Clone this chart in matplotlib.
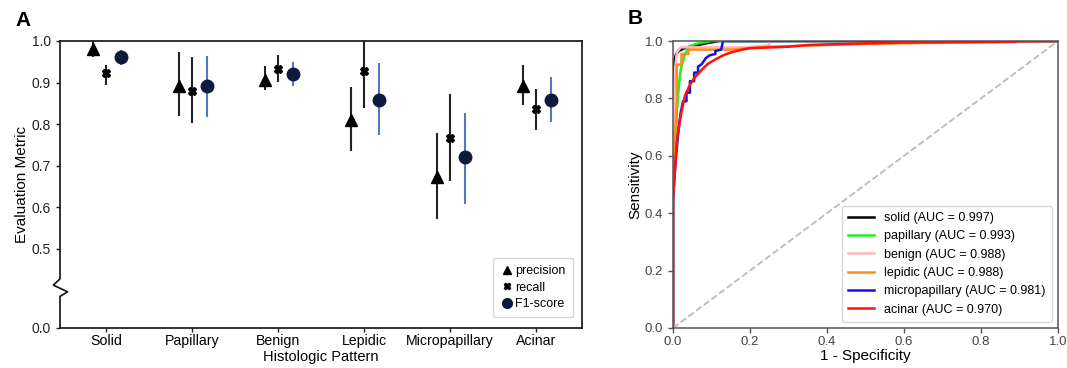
import numpy as np
import matplotlib
matplotlib.use("Agg")
import matplotlib.pyplot as plt
from matplotlib.lines import Line2D

plt.rcParams['font.family'] = ['Liberation Sans', 'DejaVu Sans']

# ---------------- Panel A data ----------------
categories = ["Solid", "Papillary", "Benign", "Lepidic", "Micropapillary", "Acinar"]
precision = [0.981, 0.893, 0.907, 0.810, 0.672, 0.893]
precision_lo = [0.962, 0.819, 0.883, 0.735, 0.573, 0.845]
precision_hi = [1.000, 0.974, 0.939, 0.890, 0.778, 0.943]
recall = [0.922, 0.880, 0.933, 0.927, 0.767, 0.837]
recall_lo = [0.895, 0.802, 0.901, 0.839, 0.663, 0.787]
recall_hi = [0.943, 0.962, 0.966, 1.000, 0.873, 0.885]
f1 = [0.962, 0.891, 0.920, 0.859, 0.722, 0.859]
f1_lo = [0.943, 0.818, 0.891, 0.773, 0.609, 0.805]
f1_hi = [0.979, 0.965, 0.950, 0.947, 0.827, 0.914]

ytick_values = [0.0, 0.5, 0.6, 0.7, 0.8, 0.9, 1.0]

# ---------------- Panel B data ----------------
roc_labels = ["solid", "papillary", "benign", "lepidic", "micropapillary", "acinar"]
roc_auc = [0.997, 0.993, 0.988, 0.988, 0.981, 0.970]
roc_colors = ["black", "#22ee22", "#ffb6c1", "#ff8c1a", "#1010ee", "#ff1010"]

fpr_solid = [0, 0, 0.003, 0.008, 0.015, 0.03, 0.06, 0.09, 0.12, 1.0]
tpr_solid = [0, 0.6, 0.93, 0.955, 0.965, 0.975, 0.985, 0.993, 1.0, 1.0]
fpr_papillary = [0, 0, 0.005, 0.01, 0.015, 0.02, 0.03, 0.04, 0.06, 0.1, 1.0]
tpr_papillary = [0, 0.45, 0.6, 0.75, 0.84, 0.9, 0.95, 0.98, 0.99, 1.0, 1.0]
fpr_benign = [0, 0, 0.005, 0.01, 0.02, 0.19, 0.25, 0.25, 1.0]
tpr_benign = [0, 0.6, 0.9, 0.96, 0.978, 0.978, 0.985, 1.0, 1.0]
fpr_lepidic = [0, 0, 0.01, 0.01, 0.022, 0.022, 0.04, 0.04, 0.15, 0.2, 0.25, 0.5, 1.0]
tpr_lepidic = [0, 0.5, 0.8, 0.918, 0.918, 0.955, 0.955, 0.97, 0.97, 0.975, 0.98, 0.99, 1.0]
fpr_micro = [0, 0, 0.008, 0.015, 0.02, 0.026, 0.035, 0.035, 0.044, 0.044, 0.055, 0.055,
             0.065, 0.065, 0.075, 0.085, 0.095, 0.11, 0.11, 0.125, 0.13, 1.0]
tpr_micro = [0, 0.45, 0.6, 0.7, 0.75, 0.79, 0.79, 0.82, 0.82, 0.86, 0.86, 0.89,
             0.89, 0.91, 0.92, 0.94, 0.95, 0.955, 0.965, 0.97, 1.0, 1.0]
fpr_acinar = [0, 0, 0.005, 0.01, 0.02, 0.031, 0.045, 0.057, 0.075, 0.09, 0.109, 0.13,
              0.15, 0.18, 0.2, 0.3, 0.35, 0.45, 0.6, 0.89, 0.89, 1.0]
tpr_acinar = [0, 0.45, 0.55, 0.65, 0.74, 0.81, 0.85, 0.874, 0.9, 0.92, 0.935, 0.95,
              0.96, 0.97, 0.975, 0.98, 0.986, 0.99, 0.995, 0.997, 1.0, 1.0]
roc_fpr = [fpr_solid, fpr_papillary, fpr_benign, fpr_lepidic, fpr_micro, fpr_acinar]
roc_tpr = [tpr_solid, tpr_papillary, tpr_benign, tpr_lepidic, tpr_micro, tpr_acinar]

# ---------------- Figure ----------------
fig = plt.figure(figsize=(10.67, 3.68), dpi=100)

axA = fig.add_axes([60/1067, 1-328/368, (582-60)/1067, (328-41)/368])
axB = fig.add_axes([673/1067, 1-328/368, (1058-673)/1067, (328-41)/368])

# ---- Panel A ----
Y0 = 0.31  # display position of the 0.0 tick (broken axis)
def ymap(v):
    v = np.asarray(v, dtype=float)
    return np.where(v >= 0.5, v, Y0 + v * (0.5 - Y0) / 0.5)

x = np.arange(len(categories))
offs = [-0.15, 0.0, 0.17]

def err(v, lo, hi):
    v = np.array(v); return [v - np.array(lo), np.array(hi) - v]

axA.errorbar(x + offs[0], precision, yerr=err(precision, precision_lo, precision_hi),
             fmt='^', color='black', ecolor='#222222', elinewidth=1.5, markersize=8,
             capsize=0, zorder=3)
axA.errorbar(x + offs[1], recall, yerr=err(recall, recall_lo, recall_hi),
             fmt='X', color='black', ecolor='#222222', elinewidth=1.5, markersize=6,
             capsize=0, zorder=3)
axA.errorbar(x + offs[2], f1, yerr=err(f1, f1_lo, f1_hi),
             fmt='o', color='#0d1a3d', mec='#0d1a3d', ecolor='#5577c0', elinewidth=1.5,
             markersize=9, capsize=0, zorder=3)

axA.set_xlim(-0.535, 5.535)
axA.set_ylim(Y0, 1.0)
axA.set_yticks(ymap(ytick_values))
axA.set_yticklabels([f"{v:.1f}" for v in ytick_values], fontsize=10, color='#222222')
axA.set_xticks(x)
axA.set_xticklabels(categories, fontsize=10.2)
axA.tick_params(axis='both', length=3, width=1, color='#222222')
axA.tick_params(axis='x', pad=1.5)
axA.set_xlabel("Histologic Pattern", fontsize=10.5, labelpad=1)
axA.set_ylabel("Evaluation Metric", fontsize=11, labelpad=2)

for s in ['top', 'right', 'bottom']:
    axA.spines[s].set_linewidth(1.2)
    axA.spines[s].set_color('#111111')
axA.spines['left'].set_visible(False)
tr = axA.get_yaxis_transform()
zz_x = [0, 0, 0.0146, -0.0128, 0, 0]
zz_y = [Y0, 0.386, 0.397, 0.413, 0.428, 1.0]
axA.plot(zz_x, zz_y, transform=tr, color='#111111', lw=1.2, clip_on=False, zorder=4)

handlesA = [
    Line2D([], [], marker='^', color='black', linestyle='none', markersize=6),
    Line2D([], [], marker='X', color='black', linestyle='none', markersize=5),
    Line2D([], [], marker='o', color='#0d1a3d', linestyle='none', markersize=7),
]
legA = axA.legend(handlesA, ['precision', 'recall', 'F1-score'], loc='lower right',
                  fontsize=9, frameon=True, fancybox=True, handletextpad=0.2,
                  handlelength=1.0, borderpad=0.6, labelspacing=0.35,
                  bbox_to_anchor=(0.995, 0.015))
legA.get_frame().set_edgecolor('#cccccc')

fig.text(15/1067, 1-20/368, "A", fontsize=15, fontweight='bold', va='center', ha='left')

# ---- Panel B ----
for f, t, lab, auc, c in zip(roc_fpr, roc_tpr, roc_labels, roc_auc, roc_colors):
    axB.plot(f, t, color=c, lw=1.8, label=f"{lab} (AUC = {auc:.3f})")
axB.plot([0, 1], [0, 1], linestyle='--', color='#bbbbbb', lw=1.3)
axB.set_xlim(0, 1)
axB.set_ylim(0, 1)
ticks = [0.0, 0.2, 0.4, 0.6, 0.8, 1.0]
axB.set_xticks(ticks)
axB.set_yticks(ticks)
axB.set_xticklabels([f"{v:.1f}" for v in ticks], fontsize=9.5, color='#444444')
axB.set_yticklabels([f"{v:.1f}" for v in ticks], fontsize=9.5, color='#444444')
axB.tick_params(axis='both', length=3.5, width=1, color='#555555')
axB.tick_params(axis='x', pad=2)
for s in axB.spines.values():
    s.set_color('#555555')
    s.set_linewidth(1.1)
axB.set_xlabel("1 - Specificity", fontsize=11, labelpad=1)
axB.set_ylabel("Sensitivity", fontsize=11, labelpad=2)
legB = axB.legend(loc='lower right', fontsize=9, frameon=True, fancybox=True,
                  handlelength=2.1, borderpad=0.5, labelspacing=0.5)
legB.get_frame().set_edgecolor('#cccccc')

fig.text(628/1067, 1-19/368, "B", fontsize=15, fontweight='bold', va='center', ha='left')

fig.savefig("out.png", dpi=100)
